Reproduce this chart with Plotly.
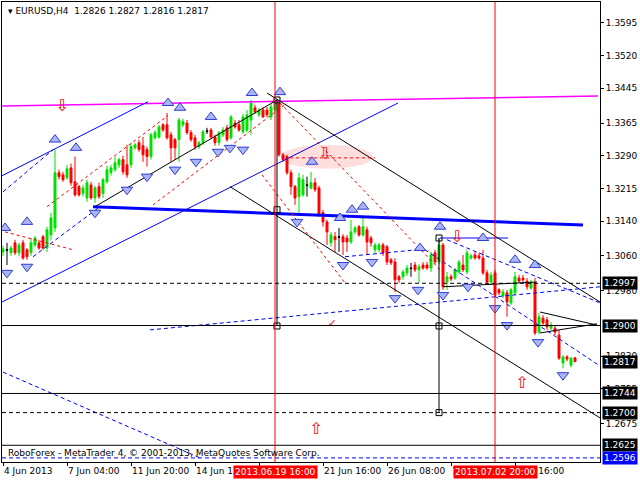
import plotly.graph_objects as go

# ---------------- data (H4 bars, bar index 0 = first visible bar) ----------------
bars = list(range(144))
opens = [
1.3069,1.3074,1.3067,1.3090,1.3067,1.3090,1.3074,1.3067,1.3085,1.3090,
1.3104,1.3078,1.3108,1.3124,1.3251,1.3246,1.3239,1.3262,1.3230,1.3219,
1.3203,1.3193,1.3223,1.3193,1.3219,1.3203,1.3230,1.3251,1.3258,1.3269,
1.3281,1.3269,1.3269,1.3308,1.3320,1.3313,1.3304,1.3288,1.3331,1.3333,
1.3361,1.3361,1.3338,1.3327,1.3327,1.3361,1.3365,1.3343,1.3331,1.3311,
1.3320,1.3347,1.3349,1.3333,1.3320,1.3338,1.3354,1.3331,1.3365,1.3361,
1.3345,1.3349,1.3372,1.3400,1.3384,1.3395,1.3395,1.3379,1.3395,1.3409,
1.3292,1.3288,1.3251,1.3219,1.3196,1.3200,1.3223,1.3216,1.3228,1.3216,
1.3159,1.3138,1.3090,1.3104,1.3104,1.3104,1.3101,1.3092,1.3115,1.3127,
1.3108,1.3120,1.3101,1.3074,1.3074,1.3085,1.3081,1.3051,1.3046,1.3012,
1.3012,1.3021,1.3032,1.3039,1.3028,1.3039,1.3039,1.3032,1.3067,1.3046,
1.3085,1.3000,1.3012,1.3009,1.3023,1.3039,1.3023,1.3055,1.3062,1.3060,
1.3055,1.3021,1.3000,1.3021,1.2982,1.2968,1.2975,1.2952,1.2975,1.3009,
1.3009,1.3002,1.2986,1.2998,1.2885,1.2917,1.2913,1.2894,1.2894,1.2878,
1.2814,1.2828,1.2809,1.2826]
highs = [
1.3083,1.3090,1.3083,1.3097,1.3090,1.3097,1.3078,1.3101,1.3106,1.3097,
1.3108,1.3127,1.3159,1.3304,1.3258,1.3253,1.3269,1.3272,1.3288,1.3223,
1.3223,1.3235,1.3230,1.3221,1.3228,1.3239,1.3267,1.3269,1.3288,1.3285,
1.3290,1.3315,1.3320,1.3320,1.3327,1.3333,1.3311,1.3343,1.3349,1.3361,
1.3365,1.3388,1.3345,1.3331,1.3377,1.3375,1.3372,1.3349,1.3338,1.3324,
1.3349,1.3354,1.3354,1.3338,1.3347,1.3356,1.3361,1.3384,1.3372,1.3372,
1.3386,1.3395,1.3418,1.3407,1.3400,1.3402,1.3402,1.3409,1.3418,1.3416,
1.3297,1.3292,1.3258,1.3223,1.3251,1.3246,1.3242,1.3253,1.3239,1.3221,
1.3166,1.3143,1.3115,1.3115,1.3124,1.3110,1.3108,1.3143,1.3129,1.3131,
1.3150,1.3127,1.3106,1.3090,1.3090,1.3090,1.3085,1.3055,1.3055,1.3016,
1.3028,1.3039,1.3044,1.3046,1.3041,1.3046,1.3046,1.3069,1.3074,1.3101,
1.3090,1.3023,1.3018,1.3032,1.3051,1.3062,1.3074,1.3064,1.3069,1.3067,
1.3074,1.3028,1.3023,1.3028,1.2986,1.2984,1.2982,1.2986,1.3023,1.3016,
1.3016,1.3009,1.3005,1.3009,1.2929,1.2924,1.2920,1.2908,1.2901,1.2890,
1.2832,1.2832,1.2828,1.2827]
lows = [
1.3060,1.3039,1.3060,1.3062,1.3060,1.3051,1.3051,1.3060,1.3081,1.3074,
1.3074,1.3069,1.3097,1.3115,1.3235,1.3230,1.3235,1.3221,1.3196,1.3196,
1.3196,1.3184,1.3189,1.3182,1.3191,1.3193,1.3226,1.3244,1.3253,1.3262,
1.3246,1.3239,1.3262,1.3304,1.3299,1.3276,1.3265,1.3281,1.3327,1.3329,
1.3345,1.3327,1.3276,1.3281,1.3276,1.3356,1.3338,1.3322,1.3304,1.3306,
1.3315,1.3340,1.3329,1.3313,1.3313,1.3333,1.3322,1.3327,1.3352,1.3345,
1.3340,1.3343,1.3338,1.3386,1.3379,1.3377,1.3379,1.3372,1.3391,1.3288,
1.3276,1.3246,1.3200,1.3177,1.3159,1.3196,1.3196,1.3212,1.3207,1.3150,
1.3127,1.3085,1.3081,1.3069,1.3069,1.3062,1.3069,1.3087,1.3110,1.3104,
1.3104,1.3062,1.3081,1.3067,1.3069,1.3060,1.3039,1.3039,1.2977,1.2998,
1.3005,1.3014,1.3012,1.3023,1.2998,1.3028,1.3028,1.3023,1.3041,1.3041,
1.2982,1.2982,1.3002,1.3005,1.3018,1.3023,1.3018,1.3051,1.3051,1.3051,
1.3016,1.2993,1.2995,1.2966,1.2970,1.2963,1.2920,1.2947,1.2970,1.2998,
1.3000,1.2982,1.2982,1.2878,1.2880,1.2901,1.2890,1.2890,1.2878,1.2821,
1.2802,1.2818,1.2804,1.2816]
closes = [
1.3076,1.3073,1.3078,1.3067,1.3085,1.3055,1.3058,1.3090,1.3101,1.3078,
1.3078,1.3120,1.3147,1.3251,1.3242,1.3235,1.3260,1.3228,1.3200,1.3200,
1.3216,1.3228,1.3193,1.3216,1.3196,1.3235,1.3258,1.3262,1.3274,1.3281,
1.3253,1.3246,1.3311,1.3315,1.3304,1.3292,1.3288,1.3338,1.3343,1.3356,
1.3349,1.3331,1.3308,1.3308,1.3372,1.3368,1.3343,1.3327,1.3311,1.3320,
1.3345,1.3346,1.3333,1.3320,1.3343,1.3349,1.3327,1.3379,1.3356,1.3349,
1.3379,1.3384,1.3411,1.3391,1.3395,1.3379,1.3384,1.3402,1.3414,1.3292,
1.3281,1.3251,1.3219,1.3193,1.3239,1.3235,1.3222,1.3228,1.3212,1.3154,
1.3138,1.3115,1.3108,1.3097,1.3103,1.3092,1.3092,1.3115,1.3124,1.3108,
1.3127,1.3092,1.3090,1.3085,1.3085,1.3067,1.3046,1.3044,1.3005,1.3005,
1.3023,1.3032,1.3031,1.3028,1.3035,1.3032,1.3032,1.3062,1.3046,1.3085,
1.2989,1.3012,1.3007,1.3028,1.3046,1.3028,1.3067,1.3060,1.3055,1.3055,
1.3021,1.3000,1.3016,1.2970,1.2975,1.2977,1.2954,1.2982,1.3012,1.3002,
1.3005,1.2989,1.3000,1.2883,1.2920,1.2906,1.2897,1.2901,1.2885,1.2825,
1.2828,1.2823,1.2825,1.2817]
doji_bars = [1, 51, 76, 84, 102]

# x-axis labels
tick_bars = [0, 16, 32, 48, 64, 80, 96, 112, 128]
tick_text = ["4 Jun 2013", "7 Jun 04:00", "11 Jun 20:00", "14 Jun 12:00", "19 Jun 00:00",
             "21 Jun 16:00", "26 Jun 08:00", "1 Jul 00:00", "3 Jul 16:00"]
# y-axis labels
price_ticks = [1.3595, 1.3520, 1.3445, 1.3365, 1.3290, 1.3215, 1.3140, 1.3060,
               1.2980, 1.2830, 1.2755, 1.2675]

# vertical period separators (bar index) and their labels
vline_bars = [68, 123]
vline_labels = ["2013.06.19 16:00", "2013.07.02 20:00"]

# horizontal levels
levels_solid = [1.2900, 1.2744, 1.2625]
levels_dashed = [1.2997, 1.2700]
level_blue = [1.2596]
box_levels = [1.2997, 1.2900, 1.2817, 1.2744, 1.2700, 1.2625]

# trend lines: (bar0, price0, bar1, price1)
magenta_line = [(-0.25, 1.3404, 148.75, 1.3427)]
blue_thick = [(22.5, 1.3173, 145.0, 1.3131)]
blue_thin = [(-0.25, 1.3244, 36.25, 1.3414), (-0.25, 1.2954, 98.75, 1.3411),
             (109.25, 1.3101, 126.25, 1.3101)]
black_thin = [(23.0, 1.3173, 68.5, 1.3418), (66.0, 1.3434, 149.25, 1.2954),
              (56.75, 1.3219, 149.25, 1.2688), (110.0, 1.2989, 133.5, 1.3000),
              (134.25, 1.2931, 148.5, 1.2901), (134.25, 1.2883, 148.5, 1.2904)]
red_dashed = [(11.0, 1.3173, 41.25, 1.3382), (37.5, 1.3177, 71.0, 1.3411),
              (0.5, 1.3115, 17.5, 1.3074), (69.25, 1.3411, 110.5, 1.3016),
              (64.75, 1.3246, 85.5, 1.2998), (71.75, 1.3285, 93.0, 1.3285)]
blue_dashed = [(85.5, 1.3058, 103.5, 1.3074), (111.0, 1.3097, 149.25, 1.2952),
               (36.75, 1.2890, 149.25, 1.2989), (105.5, 1.3074, 149.25, 1.2807),
               (0.0, 1.3207, 12.5, 1.3304), (7.5, 1.3058, 24.25, 1.3173),
               (0.0, 1.2793, 49.25, 1.2596)]
# vertical measuring lines with anchor squares
measure_bars = [68.5, 109.0]
measure_prices = [[1.3418, 1.3166, 1.2899], [1.3101, 1.2899, 1.2700]]
# highlighted zone (ellipse bounds)
zone_bars = [69.5, 92.5]
zone_prices = [1.3260, 1.3315]

# fractal arrows
up_bars = [0.5, 6, 13, 18.25, 41.25, 44.25, 52, 62.25, 69.25, 77.25, 84.25, 87.25, 90,
           104.25, 109.25, 120, 128, 133]
up_prices = [1.3124, 1.3138, 1.3327, 1.3308, 1.3411, 1.3400, 1.3379, 1.3434, 1.3436, 1.3276,
             1.3147, 1.3166, 1.3173, 1.3078, 1.3127, 1.3101, 1.3051, 1.3039]
down_bars = [1, 6, 23, 31, 36, 43, 48.25, 53.75, 56.75, 60, 73.5, 85, 92.25, 98, 103.75,
             110, 116.25, 123, 126, 133.75, 140]
down_prices = [1.3021, 1.3035, 1.3159, 1.3212, 1.3242, 1.3258, 1.3276, 1.3299, 1.3308, 1.3304,
               1.3138, 1.3039, 1.3046, 1.2963, 1.2982, 1.2970, 1.2989, 1.2940, 1.2901, 1.2862,
               1.2786]
# red signal arrows
sig_down_bars = [14.75, 80.5, 113.5]
sig_down_prices = [1.3402, 1.3292, 1.3101]
sig_up_bars = [129.75, 78.25]
sig_up_prices = [1.2766, 1.2660]
check_bar = [82.25]
check_price = [1.2904]

# ---------------- figure ----------------
GREEN = "#00e000"
RED = "#ff0000"
FONT = "DejaVu Sans"

fig = go.Figure()

normal = [i for i in bars if i not in doji_bars]
fig.add_trace(go.Candlestick(
    x=[bars[i] for i in normal], open=[opens[i] for i in normal],
    high=[highs[i] for i in normal], low=[lows[i] for i in normal],
    close=[closes[i] for i in normal],
    increasing=dict(line=dict(color=GREEN, width=1), fillcolor=GREEN),
    decreasing=dict(line=dict(color=RED, width=1), fillcolor=RED),
    whiskerwidth=0, hoverinfo="skip", showlegend=False))
fig.add_trace(go.Candlestick(
    x=[bars[i] for i in doji_bars], open=[opens[i] for i in doji_bars],
    high=[highs[i] for i in doji_bars], low=[lows[i] for i in doji_bars],
    close=[closes[i] for i in doji_bars],
    increasing=dict(line=dict(color="black", width=1), fillcolor="black"),
    decreasing=dict(line=dict(color="black", width=1), fillcolor="black"),
    whiskerwidth=0, hoverinfo="skip", showlegend=False))


def add_segments(segs, color, width, dash="solid"):
    for (x0, y0, x1, y1) in segs:
        fig.add_trace(go.Scatter(x=[x0, x1], y=[y0, y1], mode="lines",
                                 line=dict(color=color, width=width, dash=dash),
                                 hoverinfo="skip", showlegend=False))


add_segments(magenta_line, "#ff00ff", 1.5)
add_segments(blue_thick, "#0000ff", 3)
add_segments(blue_thin, "#0000ff", 1)
add_segments(black_thin, "black", 1)
add_segments(red_dashed, RED, 1, "3px,3px")
add_segments(blue_dashed, "#0000ff", 1, "4px,3px")

for xb, ps in zip(measure_bars, measure_prices):
    fig.add_trace(go.Scatter(x=[xb] * len(ps), y=ps, mode="lines+markers",
                             line=dict(color="black", width=1),
                             marker=dict(symbol="square-open", size=6, color="black"),
                             hoverinfo="skip", showlegend=False))

fig.add_trace(go.Scatter(x=up_bars, y=up_prices, mode="markers",
                         marker=dict(symbol="triangle-up", size=10, color="#aab4f6",
                                     line=dict(color="#2f3fd6", width=1)),
                         hoverinfo="skip", showlegend=False))
fig.add_trace(go.Scatter(x=down_bars, y=down_prices, mode="markers",
                         marker=dict(symbol="triangle-down", size=10, color="#aab4f6",
                                     line=dict(color="#2f3fd6", width=1)),
                         hoverinfo="skip", showlegend=False))
fig.add_trace(go.Scatter(x=sig_down_bars, y=sig_down_prices, mode="text", text=["⇩"] * len(sig_down_bars),
                         textfont=dict(color=RED, size=16, family=FONT), hoverinfo="skip", showlegend=False))
fig.add_trace(go.Scatter(x=sig_up_bars, y=sig_up_prices, mode="text", text=["⇧"] * len(sig_up_bars),
                         textfont=dict(color=RED, size=16, family=FONT), hoverinfo="skip", showlegend=False))
fig.add_trace(go.Scatter(x=check_bar, y=check_price, mode="text", text=["✓"],
                         textfont=dict(color=RED, size=11, family=FONT), hoverinfo="skip", showlegend=False))

shapes = []
shapes.append(dict(type="circle", xref="x", yref="y", x0=zone_bars[0], x1=zone_bars[1],
                   y0=zone_prices[0], y1=zone_prices[1], fillcolor="rgba(255,200,200,0.6)",
                   line=dict(width=0), layer="below"))
for v in levels_solid:
    shapes.append(dict(type="line", xref="paper", yref="y", x0=0, x1=1, y0=v, y1=v,
                       line=dict(color="black", width=1)))
for v in levels_dashed:
    shapes.append(dict(type="line", xref="paper", yref="y", x0=0, x1=1, y0=v, y1=v,
                       line=dict(color="black", width=1, dash="4px,3px")))
for v in level_blue:
    shapes.append(dict(type="line", xref="paper", yref="y", x0=0, x1=1, y0=v, y1=v,
                       line=dict(color="#0000ff", width=1, dash="4px,3px")))
for b in vline_bars:
    shapes.append(dict(type="line", xref="x", yref="paper", x0=b, x1=b, y0=0, y1=1,
                       line=dict(color=RED, width=1)))

annotations = []
for b, t in zip(vline_bars, vline_labels):
    annotations.append(dict(x=b, xref="x", y=0, yref="paper", yanchor="top", xanchor="center",
                            yshift=-3, text=t, showarrow=False, bgcolor=RED, borderpad=1,
                            font=dict(family=FONT, size=9, color="white")))
for v in box_levels:
    annotations.append(dict(x=1, xref="paper", y=v, yref="y", xanchor="left", yanchor="middle",
                            xshift=2, text=f"{v:.4f}", showarrow=False, bgcolor="black", borderpad=1,
                            font=dict(family=FONT, size=9, color="white")))
for v in level_blue:
    annotations.append(dict(x=1, xref="paper", y=v, yref="y", xanchor="left", yanchor="middle",
                            xshift=2, text=f"{v:.4f}", showarrow=False, bgcolor="#0000ff", borderpad=1,
                            font=dict(family=FONT, size=9, color="white")))
annotations.append(dict(x=0, xref="paper", y=1, yref="paper", xanchor="left", yanchor="top",
                        xshift=4, yshift=-2, showarrow=False,
                        text="▾ EURUSD,H4\u00a0\u00a01.2826 1.2827 1.2816 1.2817",
                        font=dict(family=FONT, size=9, color="black")))
annotations.append(dict(x=0, xref="paper", y=1.2607, yref="y", xanchor="left", yanchor="middle",
                        xshift=4, showarrow=False,
                        text="RoboForex - MetaTrader 4, © 2001-2013, MetaQuotes Software Corp.",
                        font=dict(family=FONT, size=9, color="black")))

fig.update_layout(
    width=640, height=480, margin=dict(l=2, r=40, t=2, b=18, autoexpand=False),
    paper_bgcolor="white", plot_bgcolor="white", showlegend=False,
    shapes=shapes, annotations=annotations,
    xaxis=dict(range=[-0.25, 149.25], showgrid=False, zeroline=False, showline=True,
               linecolor="black", linewidth=1, mirror=True, ticks="outside", ticklen=3,
               tickcolor="black", tickvals=tick_bars, ticktext=tick_text, tickangle=0,
               ticklabelposition="outside right", automargin=False,
               tickfont=dict(family=FONT, size=9, color="black"),
               rangeslider=dict(visible=False), fixedrange=True),
    yaxis=dict(range=[1.25866, 1.3643], side="right", showgrid=False, zeroline=False,
               showline=True, linecolor="black", linewidth=1, mirror=True, ticks="outside",
               ticklen=3, tickcolor="black", tickvals=price_ticks, automargin=False,
               ticktext=[f"{v:.4f}" for v in price_ticks],
               tickfont=dict(family=FONT, size=9, color="black"), fixedrange=True),
)

fig.write_html("out.html", config={"displayModeBar": False},
               post_script="document.body.style.margin='0px';document.body.style.overflow='hidden';")
